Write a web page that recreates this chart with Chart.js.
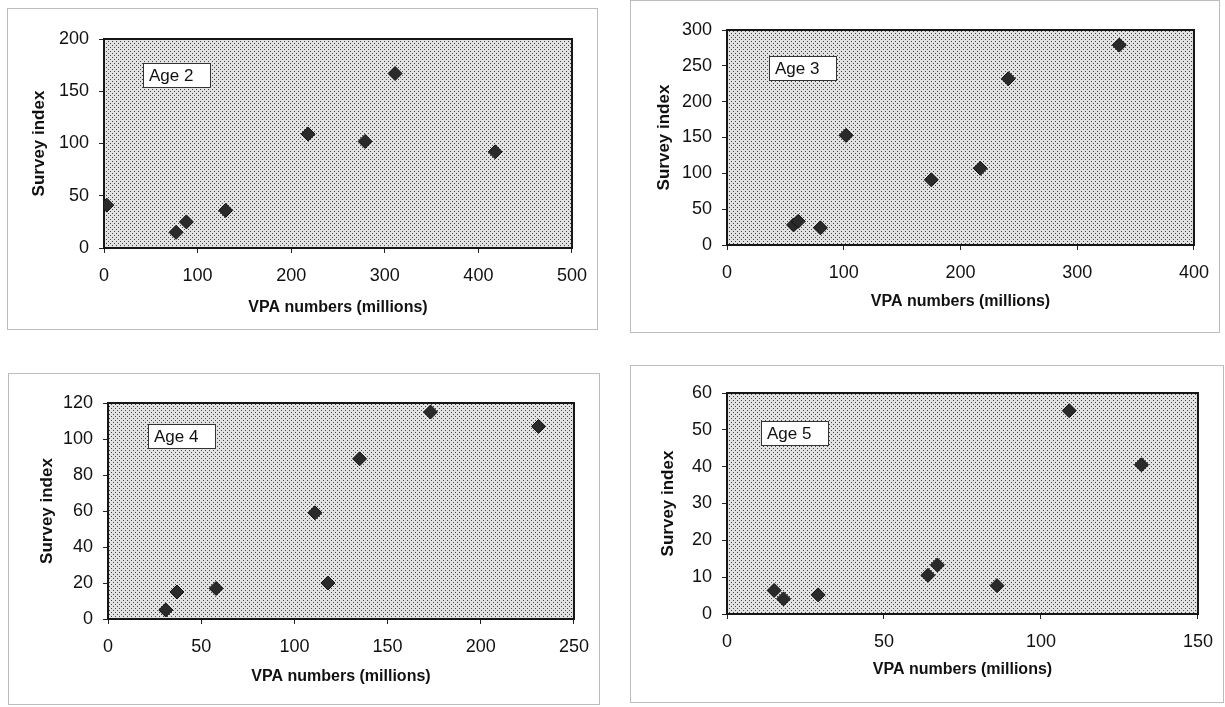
<!DOCTYPE html>
<html>
<head>
<meta charset="utf-8">
<title>Survey index vs VPA numbers</title>
<script src="https://cdn.jsdelivr.net/npm/chart.js@4.4.0/dist/chart.umd.min.js"></script>
<style>
  body { margin: 0; background: #fff; width: 1225px; height: 707px; position: relative; overflow: hidden; }
  .panel { position: absolute; border: 1px solid #bcbcbc; box-sizing: border-box; }
  .panel canvas { position: absolute; left: 0; top: 0; }
</style>
</head>
<body>
<div class="panel" id="p2" style="left:7px;top:8px;width:591px;height:322px"><canvas id="c2" width="591" height="322"></canvas></div>
<div class="panel" id="p3" style="left:630px;top:0px;width:590px;height:333px"><canvas id="c3" width="590" height="333"></canvas></div>
<div class="panel" id="p4" style="left:8px;top:373px;width:592px;height:332px"><canvas id="c4" width="592" height="332"></canvas></div>
<div class="panel" id="p5" style="left:630px;top:365px;width:594px;height:338px"><canvas id="c5" width="594" height="338"></canvas></div>
<script>
// VPA numbers (millions) and survey index, one pair of arrays per age
var age2Vpa   = [3, 77, 88, 130, 218, 279, 311, 418];
var age2Index = [41, 15, 25, 36, 109, 102, 167, 92];

var age3Vpa   = [57, 61, 80, 102, 175, 217, 241, 336];
var age3Index = [28, 33, 24, 153, 91, 107, 232, 279];

var age4Vpa   = [31, 37, 58, 111, 118, 135, 173, 231];
var age4Index = [5, 15, 17, 59, 20, 89, 115, 107];

var age5Vpa   = [15, 18, 29, 64, 67, 86, 109, 132];
var age5Index = [6.4, 4.1, 5.2, 10.5, 13.3, 7.7, 55.2, 40.5];

// axis ranges per panel
var xMax  = [500, 400, 250, 150];
var xStep = [100, 100, 50, 50];
var yMax  = [200, 300, 120, 60];
var yStep = [50, 50, 20, 10];

var ageLabels = ['Age 2', 'Age 3', 'Age 4', 'Age 5'];

var FONT = "Arial, 'Liberation Sans', Helvetica, sans-serif";

// stippled grey fill for the plot area
function makeStipple(ctx){
  var t = document.createElement('canvas');
  t.width = 4; t.height = 4;
  var g = t.getContext('2d');
  g.fillStyle = '#e2e2e2';
  g.fillRect(0, 0, 4, 4);
  g.fillStyle = '#444';
  g.fillRect(0, 0, 1, 1);
  g.fillRect(2, 2, 1, 1);
  return ctx.createPattern(t, 'repeat');
}

var plotBox = {
  id: 'plotBox',
  beforeDraw: function(chart){
    var a = chart.chartArea, ctx = chart.ctx;
    ctx.save();
    ctx.fillStyle = makeStipple(ctx);
    ctx.fillRect(a.left, a.top, a.right - a.left, a.bottom - a.top);
    ctx.restore();
  },
  beforeDatasetsDraw: function(chart, args, opts){
    var a = chart.chartArea, ctx = chart.ctx;
    ctx.save();
    // age tag
    ctx.font = '17px ' + FONT;
    var bx = a.left + opts.dx, by = a.top + opts.dy;
    ctx.fillStyle = '#fff';
    ctx.fillRect(bx, by, 67, 24);
    ctx.strokeStyle = '#333';
    ctx.lineWidth = 1;
    ctx.strokeRect(bx + 0.5, by + 0.5, 67, 24);
    ctx.fillStyle = '#111';
    ctx.textBaseline = 'middle';
    ctx.fillText(opts.text, bx + 6, by + 13);
    // frame round the plot
    ctx.strokeStyle = '#151515';
    ctx.lineWidth = 2;
    ctx.strokeRect(a.left, a.top, a.right - a.left, a.bottom - a.top);
    ctx.restore();
  }
};

function scatter(id, xs, ys, i, lay){
  var pts = xs.map(function(x, k){ return {x: x, y: ys[k]}; });
  return new Chart(document.getElementById(id), {
    type: 'scatter',
    data: { datasets: [{
      data: pts,
      pointStyle: 'rectRot',
      radius: 7,
      backgroundColor: '#2a2a2a',
      borderColor: '#111',
      borderWidth: 1
    }]},
    options: {
      responsive: false,
      animation: false,
      events: [],
      layout: { padding: { left: lay.padL, top: lay.padT, right: lay.padR, bottom: lay.padB } },
      plugins: {
        legend: { display: false },
        tooltip: { enabled: false },
        plotBox: { text: ageLabels[i], dx: lay.tagX, dy: lay.tagY }
      },
      scales: {
        x: {
          type: 'linear', min: 0, max: xMax[i],
          afterFit: function(s){ s.height = lay.xH; },
          ticks: { stepSize: xStep[i], padding: 12, color: '#111', font: { family: FONT, size: 18 } },
          grid: { drawOnChartArea: false, drawTicks: true, tickLength: 5, color: '#222' },
          border: { display: false },
          title: { display: true, text: 'VPA numbers (millions)', color: '#111',
                   font: { family: FONT, size: 16, weight: 'bold' } }
        },
        y: {
          type: 'linear', min: 0, max: yMax[i],
          afterFit: function(s){ s.width = lay.yW; },
          ticks: { stepSize: yStep[i], padding: 10, color: '#111', font: { family: FONT, size: 18 } },
          grid: { drawOnChartArea: false, drawTicks: true, tickLength: 5, color: '#222' },
          border: { display: false },
          title: { display: true, text: 'Survey index', color: '#111',
                   font: { family: FONT, size: 17, weight: 'bold' } }
        }
      }
    },
    plugins: [plotBox]
  });
}

scatter('c2', age2Vpa, age2Index, 0, { padL: 17, yW: 79, padT: 30, padR: 23, xH: 73, padB: 10, tagX: 39, tagY: 24 });
scatter('c3', age3Vpa, age3Index, 1, { padL: 19, yW: 77, padT: 29, padR: 26, xH: 70, padB: 19, tagX: 42, tagY: 26 });
scatter('c4', age4Vpa, age4Index, 2, { padL: 24, yW: 75, padT: 29, padR: 22, xH: 71, padB: 16, tagX: 40, tagY: 21 });
scatter('c5', age5Vpa, age5Index, 3, { padL: 23, yW: 73, padT: 27, padR: 26, xH: 69, padB: 21, tagX: 34, tagY: 28 });
</script>
</body>
</html>
